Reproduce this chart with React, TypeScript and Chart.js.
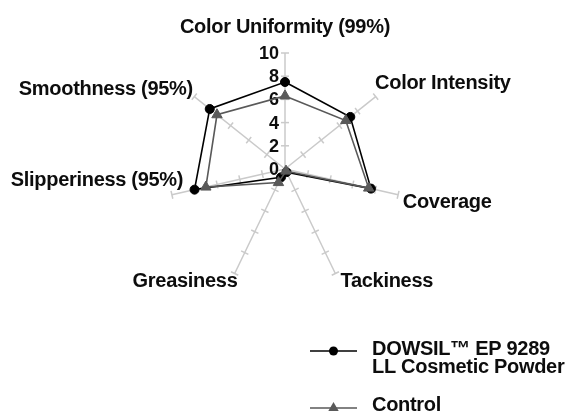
import React, { useEffect, useRef } from "react";
import { Chart, registerables } from "chart.js";

Chart.register(...registerables);

// ---- data ----
const CATEGORIES = [
  "Color Uniformity (99%)",
  "Color Intensity",
  "Coverage",
  "Tackiness",
  "Greasiness",
  "Slipperiness (95%)",
  "Smoothness (95%)",
];
const DOWSIL_VALUES = [7.5, 7.2, 7.6, 0.3, 0.8, 8.0, 8.3];
const CONTROL_VALUES = [6.3, 6.7, 7.4, 0.2, 1.3, 7.0, 7.5];
const TICK_VALUES = [0, 2, 4, 6, 8, 10];
const SERIES_NAMES = ["DOWSIL™ EP 9289 LL Cosmetic Powder", "Control"];
const LEGEND_LINES = [["DOWSIL™ EP 9289", "LL Cosmetic Powder"], ["Control"]];

// ---- styles ----
const W = 569;
const H = 415;
const FONT = '"Liberation Sans", Arial, sans-serif';
const SPOKE = "#cacaca";
const TEXT = "#0d0d0d";
const DOWSIL_COLOR = "#000000";
const CONTROL_COLOR = "#595959";
const LETTER_SPACING = "-0.3px";
// label placement: distance beyond the outer ring, then small nudges (dx, dy)
const LABEL_PAD = 12;
const LABEL_NUDGE = [
  [0, -14],
  [-10, -6],
  [-7, 5],
  [0, -3],
  [8, -3],
  [23, -17],
  [8, 0],
];

function drawMarker(ctx: CanvasRenderingContext2D, style: string, x: number, y: number, r: number, color: string) {
  ctx.fillStyle = color;
  ctx.beginPath();
  if (style === "circle") {
    ctx.arc(x, y, r, 0, Math.PI * 2);
  } else {
    for (let k = 0; k < 3; k++) {
      const a = (k * 2 * Math.PI) / 3;
      const px = x + Math.sin(a) * r;
      const py = y - Math.cos(a) * r;
      if (k === 0) ctx.moveTo(px, py);
      else ctx.lineTo(px, py);
    }
    ctx.closePath();
  }
  ctx.fill();
}

const overlayPlugin = {
  id: "overlay",
  beforeDatasetsDraw(chart: any) {
    const s = chart.scales.r;
    const ctx: CanvasRenderingContext2D = chart.ctx;
    const n = chart.data.labels.length;
    ctx.save();
    // tick marks on each spoke
    ctx.strokeStyle = SPOKE;
    ctx.lineWidth = 1.5;
    for (let i = 0; i < n; i++) {
      const a = s.getIndexAngle(i) - Math.PI / 2;
      const px = -Math.sin(a);
      const py = Math.cos(a);
      for (const t of s.ticks) {
        if (t.value === 0) continue;
        const p = s.getPointPositionForValue(i, t.value);
        ctx.beginPath();
        ctx.moveTo(p.x - px * 4, p.y - py * 4);
        ctx.lineTo(p.x + px * 4, p.y + py * 4);
        ctx.stroke();
      }
    }
    // tick labels on the value axis
    ctx.fillStyle = TEXT;
    ctx.font = `bold 18px ${FONT}`;
    ctx.textAlign = "right";
    ctx.textBaseline = "middle";
    for (const t of s.ticks) {
      const y = s.yCenter - s.getDistanceFromCenterForValue(t.value);
      ctx.fillText(String(t.value), s.xCenter - 6, y + 1);
    }
    ctx.restore();
  },
  afterDraw(chart: any) {
    const s = chart.scales.r;
    const ctx: any = chart.ctx;
    const labels: string[] = chart.data.labels;
    ctx.save();
    ctx.letterSpacing = LETTER_SPACING;
    ctx.fillStyle = TEXT;
    ctx.font = `bold 20px ${FONT}`;
    ctx.textBaseline = "middle";
    labels.forEach((lab, i) => {
      const p = s.getPointPosition(i, s.drawingArea + LABEL_PAD);
      const dx = p.x - s.xCenter;
      ctx.textAlign = Math.abs(dx) < 2 ? "center" : dx > 0 ? "left" : "right";
      ctx.fillText(lab, p.x + LABEL_NUDGE[i][0], p.y + LABEL_NUDGE[i][1]);
    });

    // legend
    const items = [
      { lines: LEGEND_LINES[0], color: DOWSIL_COLOR, style: "circle", r: 4.5, lineY: 351, textY: 349.5 },
      { lines: LEGEND_LINES[1], color: CONTROL_COLOR, style: "triangle", r: 6, lineY: 408, textY: 405 },
    ];
    const x0 = 310;
    const x1 = 357;
    const tx = 372;
    for (const it of items) {
      ctx.strokeStyle = it.color;
      ctx.lineWidth = 1.5;
      ctx.beginPath();
      ctx.moveTo(x0, it.lineY);
      ctx.lineTo(x1, it.lineY);
      ctx.stroke();
      drawMarker(ctx, it.style, (x0 + x1) / 2, it.lineY, it.r, it.color);
      ctx.fillStyle = TEXT;
      ctx.textAlign = "left";
      ctx.textBaseline = "middle";
      ctx.font = `bold 20px ${FONT}`;
      it.lines.forEach((ln: string, k: number) => ctx.fillText(ln, tx, it.textY + k * 17.5));
    }
    ctx.restore();
  },
};

export default function App() {
  const ref = useRef<HTMLCanvasElement | null>(null);
  useEffect(() => {
    if (!ref.current) return;
    const chart = new Chart(ref.current, {
      type: "radar",
      data: {
        labels: CATEGORIES,
        datasets: [
          {
            label: SERIES_NAMES[0],
            data: DOWSIL_VALUES,
            borderColor: DOWSIL_COLOR,
            backgroundColor: DOWSIL_COLOR,
            borderWidth: 1.6,
            pointStyle: "circle",
            pointRadius: 4.5,
            pointBorderWidth: 1,
            pointBackgroundColor: DOWSIL_COLOR,
            pointBorderColor: DOWSIL_COLOR,
            fill: false,
            tension: 0,
            order: 1,
          },
          {
            label: SERIES_NAMES[1],
            data: CONTROL_VALUES,
            borderColor: CONTROL_COLOR,
            backgroundColor: CONTROL_COLOR,
            borderWidth: 1.6,
            pointStyle: "triangle",
            pointRadius: 6,
            pointBorderWidth: 1,
            pointBackgroundColor: CONTROL_COLOR,
            pointBorderColor: CONTROL_COLOR,
            fill: false,
            tension: 0,
            order: 0,
          },
        ],
      },
      options: {
        responsive: false,
        animation: false,
        layout: { padding: { left: 169, right: 168, top: 53, bottom: 130 } },
        plugins: { legend: { display: false }, tooltip: { enabled: false } },
        scales: {
          r: {
            min: 0,
            max: 10,
            afterBuildTicks: (sc: any) => {
              sc.ticks = TICK_VALUES.map((v) => ({ value: v }));
            },
            ticks: { display: false, stepSize: 2 },
            grid: { display: false },
            angleLines: { display: true, color: SPOKE, lineWidth: 1.5 },
            pointLabels: { display: false },
          },
        },
      },
      plugins: [overlayPlugin],
    } as any);
    return () => chart.destroy();
  }, []);
  return (
    <div style={{ position: "fixed", left: 0, top: 0, width: W, height: H, background: "#ffffff" }}>
      <canvas ref={ref} width={W} height={H} style={{ display: "block" }} />
    </div>
  );
}
